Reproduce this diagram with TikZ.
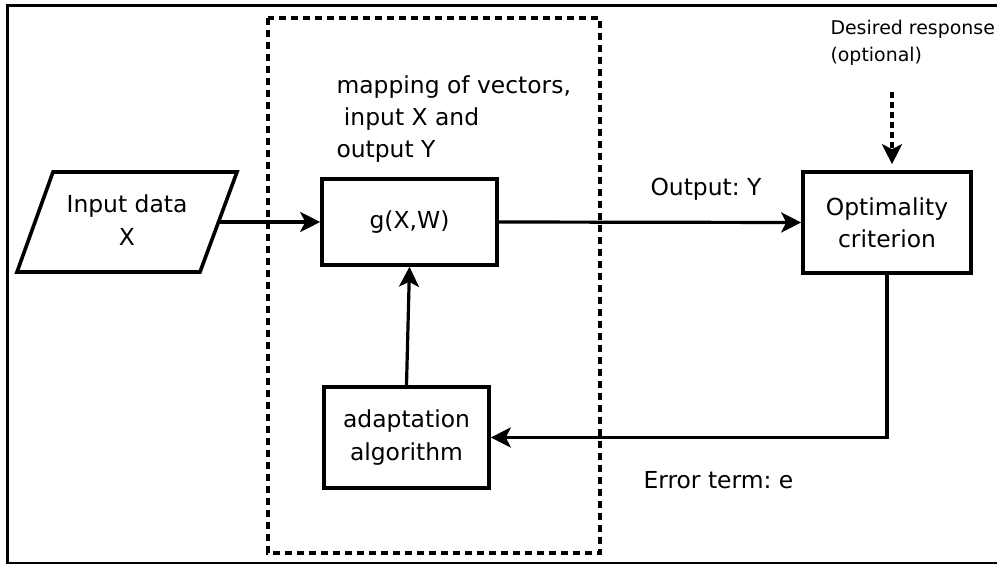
\documentclass[tikz,border=0pt]{standalone}
\usepackage{fontspec}
\setmainfont{DejaVu Sans}
\usetikzlibrary{arrows.meta,calc}

\begin{document}
\frenchspacing
\begin{tikzpicture}[x=1bp,y=-1bp,
  every node/.style={font=\fontsize{23.5}{32.5}\selectfont},
  blockbox/.style={draw,line width=3.6bp,inner sep=0pt,align=center},
  tip/.style={-{Stealth[length=20bp,width=20bp,inset=5bp]}},
  flow/.style={line width=3.2bp,tip},
  small/.style={font=\fontsize{19}{27}\selectfont},
  groupbox/.style={line width=3.2bp,dash pattern=on 7bp off 5bp},
]
\useasboundingbox (0,0) rectangle (997,565);

% frame around the whole figure
\draw[line width=2.4bp] (7.5,5.5) rectangle (1010,563);

% dashed group around the mapping and its adaptation
\draw[groupbox] (268,18) rectangle (600,553);

% input parallelogram
\draw[line width=3.6bp,line join=miter]
  (53,172) -- (237,172) -- (200,272) -- (17,272) -- cycle;
\node[align=center] (in) at (127,220) {Input data\\X};
\coordinate (inR) at (218.5,222);

% blocks
\node[blockbox,minimum width=175bp,minimum height=86bp] (g) at (409.5,222) {g(X,W)};
\node[blockbox,minimum width=168bp,minimum height=101bp] (opt) at (887,222.5) {Optimality\\criterion};
\node[blockbox,minimum width=165bp,minimum height=101bp] (adapt) at (406.5,437.5) {adaptation\\algorithm};

% labels
\node[anchor=west,align=left] (map) at (333,119) {mapping of vectors,\\ \ input X and\\output Y};
\node (outlbl) at (706,189) {Output: Y};
\node[anchor=west] (errlbl) at (640,480) {Error term: e};
\node[small,anchor=west,align=left] (des) at (827,43) {Desired response\\(optional)};

% connectors
\draw[flow] (inR) -- (g.west);
\draw[flow] (g.east) -- (opt.west);
\draw[flow] (adapt.north) -- (g.south);
\draw[flow] (opt.south) |- (adapt.east);

\coordinate (dtop) at (892,92);
\draw[line width=3.2bp,dash pattern=on 6bp off 4bp,tip,shorten >=6bp]
  (dtop) -- (dtop |- opt.north);
\end{tikzpicture}
\end{document}
